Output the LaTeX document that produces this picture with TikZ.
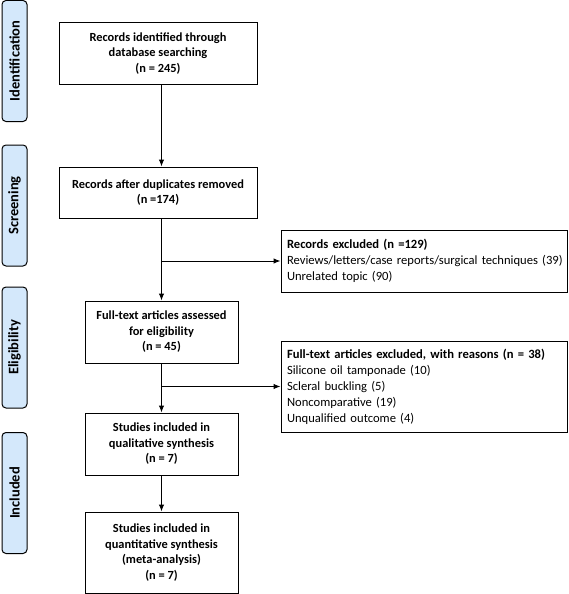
\documentclass[tikz,border=0pt]{standalone}
\usepackage{fontspec}
\setmainfont{Carlito}
\usepackage{xcolor}
\usetikzlibrary{positioning,arrows.meta}

\definecolor{stagefill}{RGB}{212,232,251}

\begin{document}
\begin{tikzpicture}[x=1pt, y=-1pt,
    box/.style = {draw, line width=1pt, align=center, inner sep=0pt,
                  font=\bfseries\fontsize{12.4}{15.5}\selectfont},
    exbox/.style = {draw, line width=1pt, align=left, inner xsep=6pt,
                    text width=274pt, font=\fontsize{12.6}{16}\selectfont},
    stage/.style = {draw, line width=1pt, rounded corners=4pt, fill=stagefill,
                    minimum width=121pt, minimum height=25pt, rotate=90,
                    font=\bfseries\fontsize{14.5}{16}\selectfont},
    flow/.style = {line width=1pt, -{Latex[length=7pt,width=5.5pt]}}]
    \useasboundingbox (0,0) rectangle (568,594);

    % stage labels
    \node[stage] (s1) at (14.5,61) {Identification};
    \node[stage] (s2) at (14.5,205.5) {Screening};
    \node[stage] (s3) at (14.5,347.5) {Eligibility};
    \node[stage] (s4) at (14.5,493) {Included};

    % main column
    \node[box, minimum width=198pt, minimum height=61pt] (id) at (158,53.5)
      {Records identified through\\database searching\\(n = 245)};
    \node[box, minimum width=198pt, minimum height=51pt] (dup) at (158,192.5)
      {Records after duplicates removed\\(n =174)};
    \node[box, minimum width=153pt, minimum height=62pt] (full) at (161.5,332)
      {Full-text articles assessed\\for eligibility\\(n = 45)};
    \node[box, minimum width=153pt, minimum height=62pt] (qual) at (161.5,444)
      {Studies included in\\qualitative synthesis\\(n = 7)};
    \node[box, minimum width=153pt, minimum height=81pt] (quant) at (161.5,552.5)
      {Studies included in\\quantitative synthesis\\(meta-analysis)\\(n = 7)};

    % exclusions
    \node[exbox, minimum height=62pt] (ex1) at (424,261)
      {\textbf{Records excluded (n =129)}\\
       \mbox{Reviews/letters/case reports/surgical techniques (39)}\\
       Unrelated topic (90)};
    \node[exbox, minimum height=91pt] (ex2) at (424,386.5)
      {\mbox{\textbf{Full-text articles excluded, with reasons (n = 38)}}\\
       Silicone oil tamponade (10)\\
       Scleral buckling (5)\\
       Noncomparative (19)\\
       Unqualified outcome (4)};

    \draw[flow] (id.south -| full) -- (dup.north -| full);
    \draw[flow] (dup.south -| full) -- (full.north);
    \draw[flow] (full.north |- ex1.west) -- (ex1.west);
    \draw[flow] (full) -- (qual);
    \draw[flow] (qual.north |- ex2.west) -- (ex2.west);
    \draw[flow] (qual) -- (quant);
\end{tikzpicture}
\end{document}
